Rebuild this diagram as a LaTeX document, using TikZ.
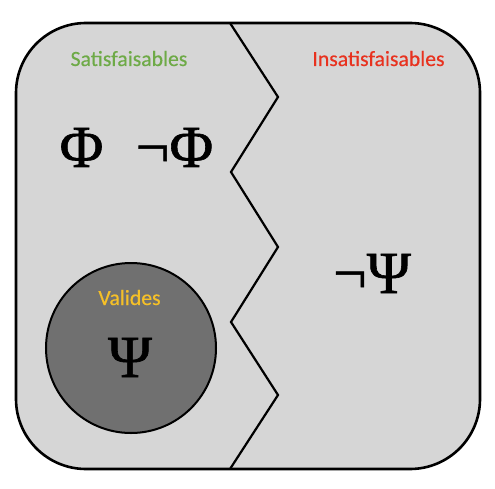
\documentclass[tikz,border=0pt]{standalone}
\usepackage{fontspec}
\newfontfamily\lbl[FakeBold=0.4]{Carlito}
\newfontfamily\grk[FakeBold=1.0]{Liberation Serif}
\definecolor{boxgray}{HTML}{D6D6D6}
\definecolor{circgray}{HTML}{707070}
\definecolor{satgreen}{HTML}{6EAA47}
\definecolor{insred}{HTML}{E8321F}
\definecolor{valyellow}{HTML}{F5C028}
\begin{document}
\begin{tikzpicture}[x=1bp,y=-1bp,
  setlabel/.style={font=\lbl\fontsize{21.8}{25}\selectfont,anchor=base,inner sep=0pt},
  formula/.style={font=\grk\fontsize{60}{66}\selectfont,anchor=base,inner sep=0pt},
  outline/.style={draw=black,line width=2.6bp},
  zig/.style={draw=black,line width=2.2bp,line join=miter}]
\useasboundingbox (0,0) rectangle (495,489);
\draw[outline,fill=boxgray,rounded corners=70bp] (16,23) rectangle (480,469);
\draw[zig] (230,23) -- (278,97) -- (231,172) -- (278,247) -- (231,322) -- (278,395) -- (230,469);
\node[draw=black,line width=2bp,fill=circgray,circle,minimum size=170bp,inner sep=0pt] (valides) at (131,348) {};
\node[setlabel,text=satgreen] (sat) at (129,66) {Satisfaisables};
\node[setlabel,text=insred] (insat) at (378.5,66) {Insatisfaisables};
\node[setlabel,text=valyellow] (val) at (129.5,305) {Valides};
\node[formula] (phi) at (81.5,167) {Φ};
\node[formula] (nphi) at (174.5,167) {¬Φ};
\node[formula] (npsi) at (372,293) {¬Ψ};
\node[formula] (psi) at (130,377) {Ψ};
\end{tikzpicture}
\end{document}
